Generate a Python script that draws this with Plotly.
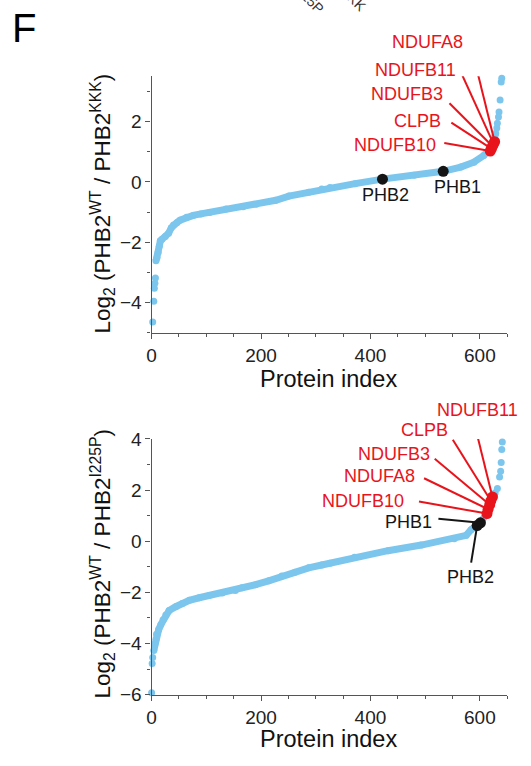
import plotly.graph_objects as go

# ---------------- data ----------------
# Top panel: log2(PHB2 WT / PHB2 KKK), proteins sorted by ratio
top_low_idx = [2, 4, 5, 6, 7]
top_low_val = [-4.64, -3.95, -3.52, -3.36, -3.18]
top_mid_idx = [8, 10, 12, 14, 16, 19, 25, 31, 36, 40, 46, 52, 64, 76, 90, 106, 136,
               167, 191, 227, 251, 287, 311, 326, 372, 422, 480, 533, 565, 589, 607,
               616, 624, 629]
top_mid_val = [-2.61, -2.50, -2.34, -2.13, -1.95, -1.90, -1.81, -1.70, -1.52, -1.43,
               -1.35, -1.27, -1.17, -1.11, -1.06, -1.01, -0.90, -0.82, -0.74, -0.61,
               -0.47, -0.34, -0.24, -0.19, -0.06, 0.09, 0.22, 0.35, 0.49, 0.65, 0.87,
               1.03, 1.30, 1.61]
top_high_idx = [631, 632, 634, 635, 637, 639, 640]
top_high_val = [1.78, 1.94, 2.15, 2.31, 2.71, 3.31, 3.43]
top_red_names = ["NDUFA8", "NDUFB11", "NDUFB3", "CLPB", "NDUFB10"]
top_red_idx = [627, 625, 623, 621, 619]
top_red_val = [1.33, 1.26, 1.18, 1.10, 1.02]
top_phb_names = ["PHB2", "PHB1"]
top_phb_idx = [422, 533]
top_phb_val = [0.09, 0.35]

# Bottom panel: log2(PHB2 WT / PHB2 I225P)
bot_low_idx = [0, 1, 2]
bot_low_val = [-5.92, -4.78, -4.55]
bot_mid_idx = [4, 6, 8, 9, 13, 17, 21, 26, 32, 44, 56, 69, 87, 105, 129, 153, 165,
               190, 214, 238, 262, 287, 311, 326, 371, 432, 493, 553, 575, 584, 592,
               600, 610, 620, 628]
bot_mid_val = [-4.27, -4.02, -3.83, -3.64, -3.45, -3.26, -3.07, -2.88, -2.71, -2.56,
               -2.43, -2.31, -2.21, -2.12, -2.02, -1.93, -1.82, -1.70, -1.55, -1.36,
               -1.21, -1.04, -0.93, -0.86, -0.63, -0.37, -0.15, 0.10, 0.23, 0.45,
               0.58, 0.70, 1.00, 1.50, 1.90]
bot_high_idx = [632, 636, 638, 639, 640, 641]
bot_high_val = [2.06, 2.51, 2.74, 3.08, 3.59, 3.88]
bot_red_names = ["NDUFB11", "CLPB", "NDUFB3", "NDUFA8", "NDUFB10"]
bot_red_idx = [623, 620, 618, 615, 613]
bot_red_val = [1.73, 1.58, 1.43, 1.25, 1.08]
bot_phb_names = ["PHB1", "PHB2"]
bot_phb_idx = [601, 595]
bot_phb_val = [0.72, 0.61]

x_ticks = [0, 200, 400, 600]
top_y_ticks = [-4, -2, 0, 2]
bot_y_ticks = [-6, -4, -2, 0, 2, 4]

# ---------------- style / layout ----------------
BLUE = "#7cc6ee"
RED = "#e8141c"
BLACK = "#151515"
AXC = "#555555"
FONT = "Liberation Sans, Arial, sans-serif"
W, H = 531, 766

# label geometry: (line tail dx, dy), (text dx, dy) in pixels relative to the point
top_red_geo = [((-22, -89), (-67, -100)), ((-31, -68), (-78, -74)),
               ((-43, -43), (-85, -52)), ((-40, -26), (-74, -28)),
               ((-46, -8), (-95, -6))]
top_phb_geo = [(None, (3, 16)), (None, (14, 16))]
bot_red_geo = [((-18, -73), (-15, -87)), ((-38, -61), (-66, -71)),
               ((-55, -46), (-96, -51)), ((-64, -31), (-109, -33)),
               ((-68, -12), (-124, -13))]
bot_phb_geo = [((-42, -4), (-72, -1)), ((-6, 37), (-7, 51))]

fig = go.Figure()


def add_panel(xa, ya, low, mid, high, red, phb):
    kw = dict(xaxis=xa, yaxis=ya, showlegend=False, cliponaxis=False, hoverinfo="skip")
    fig.add_trace(go.Scatter(x=mid[0], y=mid[1], mode="lines+markers",
                             line=dict(color=BLUE, width=7),
                             marker=dict(color=BLUE, size=7), **kw))
    for arr in (low, high):
        fig.add_trace(go.Scatter(x=arr[0], y=arr[1], mode="markers",
                                 marker=dict(color=BLUE, size=7), **kw))
    fig.add_trace(go.Scatter(x=phb[0], y=phb[1], mode="markers",
                             marker=dict(color=BLACK, size=11), **kw))
    fig.add_trace(go.Scatter(x=red[0], y=red[1], mode="markers",
                             marker=dict(color=RED, size=11), **kw))


add_panel("x", "y", (top_low_idx, top_low_val), (top_mid_idx, top_mid_val),
          (top_high_idx, top_high_val), (top_red_idx, top_red_val),
          (top_phb_idx, top_phb_val))
add_panel("x2", "y2", (bot_low_idx, bot_low_val), (bot_mid_idx, bot_mid_val),
          (bot_high_idx, bot_high_val), (bot_red_idx, bot_red_val),
          (bot_phb_idx, bot_phb_val))

annotations = []
shapes = []


def add_labels(xr, yr, names, xs, ys, geo, color):
    for n, x, y, (tail, txt) in zip(names, xs, ys, geo):
        if tail is not None:
            shapes.append(dict(type="line", xref=xr, yref=yr, xsizemode="pixel",
                               ysizemode="pixel", xanchor=x, yanchor=y, x0=0, y0=0,
                               x1=tail[0], y1=-tail[1], layer="above",
                               line=dict(color=color, width=2)))
        annotations.append(dict(xref=xr, yref=yr, x=x, y=y, text=n, showarrow=False,
                                xshift=txt[0], yshift=-txt[1], xanchor="center",
                                yanchor="middle", font=dict(size=18, color=color, family=FONT)))


add_labels("x", "y", top_red_names, top_red_idx, top_red_val, top_red_geo, RED)
add_labels("x", "y", top_phb_names, top_phb_idx, top_phb_val, top_phb_geo, BLACK)
add_labels("x2", "y2", bot_red_names, bot_red_idx, bot_red_val, bot_red_geo, RED)
add_labels("x2", "y2", bot_phb_names, bot_phb_idx, bot_phb_val, bot_phb_geo, BLACK)


def px(xp, yp):
    return xp / W, 1 - yp / H


def text_at(xp, yp, t, size, angle=0, color="#111"):
    x, y = px(xp, yp)
    annotations.append(dict(xref="paper", yref="paper", x=x, y=y, text=t, showarrow=False,
                            textangle=angle, xanchor="center", yanchor="middle",
                            font=dict(size=size, color=color, family=FONT)))


text_at(19, 18, "F", 40, color="#000")
text_at(306, -12, "I225P", 14, angle=45, color="#333")
text_at(352, -11, "KKK", 14, angle=45, color="#333")
text_at(98, 199, "Log<sub>2</sub> (PHB2<sup>WT</sup> / PHB2<sup>KKK</sup>)", 22.5, angle=-90)
text_at(98, 569, "Log<sub>2</sub> (PHB2<sup>WT</sup> / PHB2<sup>I225P</sup>)", 22.5, angle=-90)
text_at(327, 379, "Protein index", 23.5)
text_at(327, 750, "Protein index", 23.5)

xdom = [148 / W, 507 / W]
axis_common = dict(showline=True, linecolor=AXC, linewidth=1.3, ticks="outside",
                   ticklen=5, tickwidth=1.3, tickcolor=AXC, showgrid=False, zeroline=False,
                   tickfont=dict(size=19, color="#222", family=FONT))
minor_common = dict(ticks="outside", ticklen=3, tickwidth=1.2, tickcolor=AXC, showgrid=False)

fig.update_layout(
    width=W, height=H, margin=dict(l=0, r=0, t=0, b=0),
    paper_bgcolor="white", plot_bgcolor="white",
    xaxis=dict(domain=xdom, range=[0, 650], anchor="y", tickmode="array",
               tickvals=x_ticks, ticklabelstandoff=0,
               minor=dict(minor_common, dtick=50, tick0=0), **axis_common),
    yaxis=dict(domain=[1 - 332 / H, 1 - 68 / H], range=[-5, 3.5], anchor="x",
               tickmode="array", tickvals=top_y_ticks,
               minor=dict(minor_common, dtick=1, tick0=0), **axis_common),
    xaxis2=dict(domain=xdom, range=[0, 650], anchor="y2", tickmode="array",
                tickvals=x_ticks, ticklabelstandoff=0,
                minor=dict(minor_common, dtick=50, tick0=0), **axis_common),
    yaxis2=dict(domain=[1 - 704 / H, 1 - 441 / H], range=[-6, 4], anchor="x2",
                tickmode="array", tickvals=bot_y_ticks,
                minor=dict(minor_common, dtick=1, tick0=0), **axis_common),
    annotations=annotations,
    shapes=shapes,
)

fig.write_html("out.html", config={"displayModeBar": False},
               post_script="document.body.style.margin='0';"
                           "document.body.style.overflow='hidden';")
